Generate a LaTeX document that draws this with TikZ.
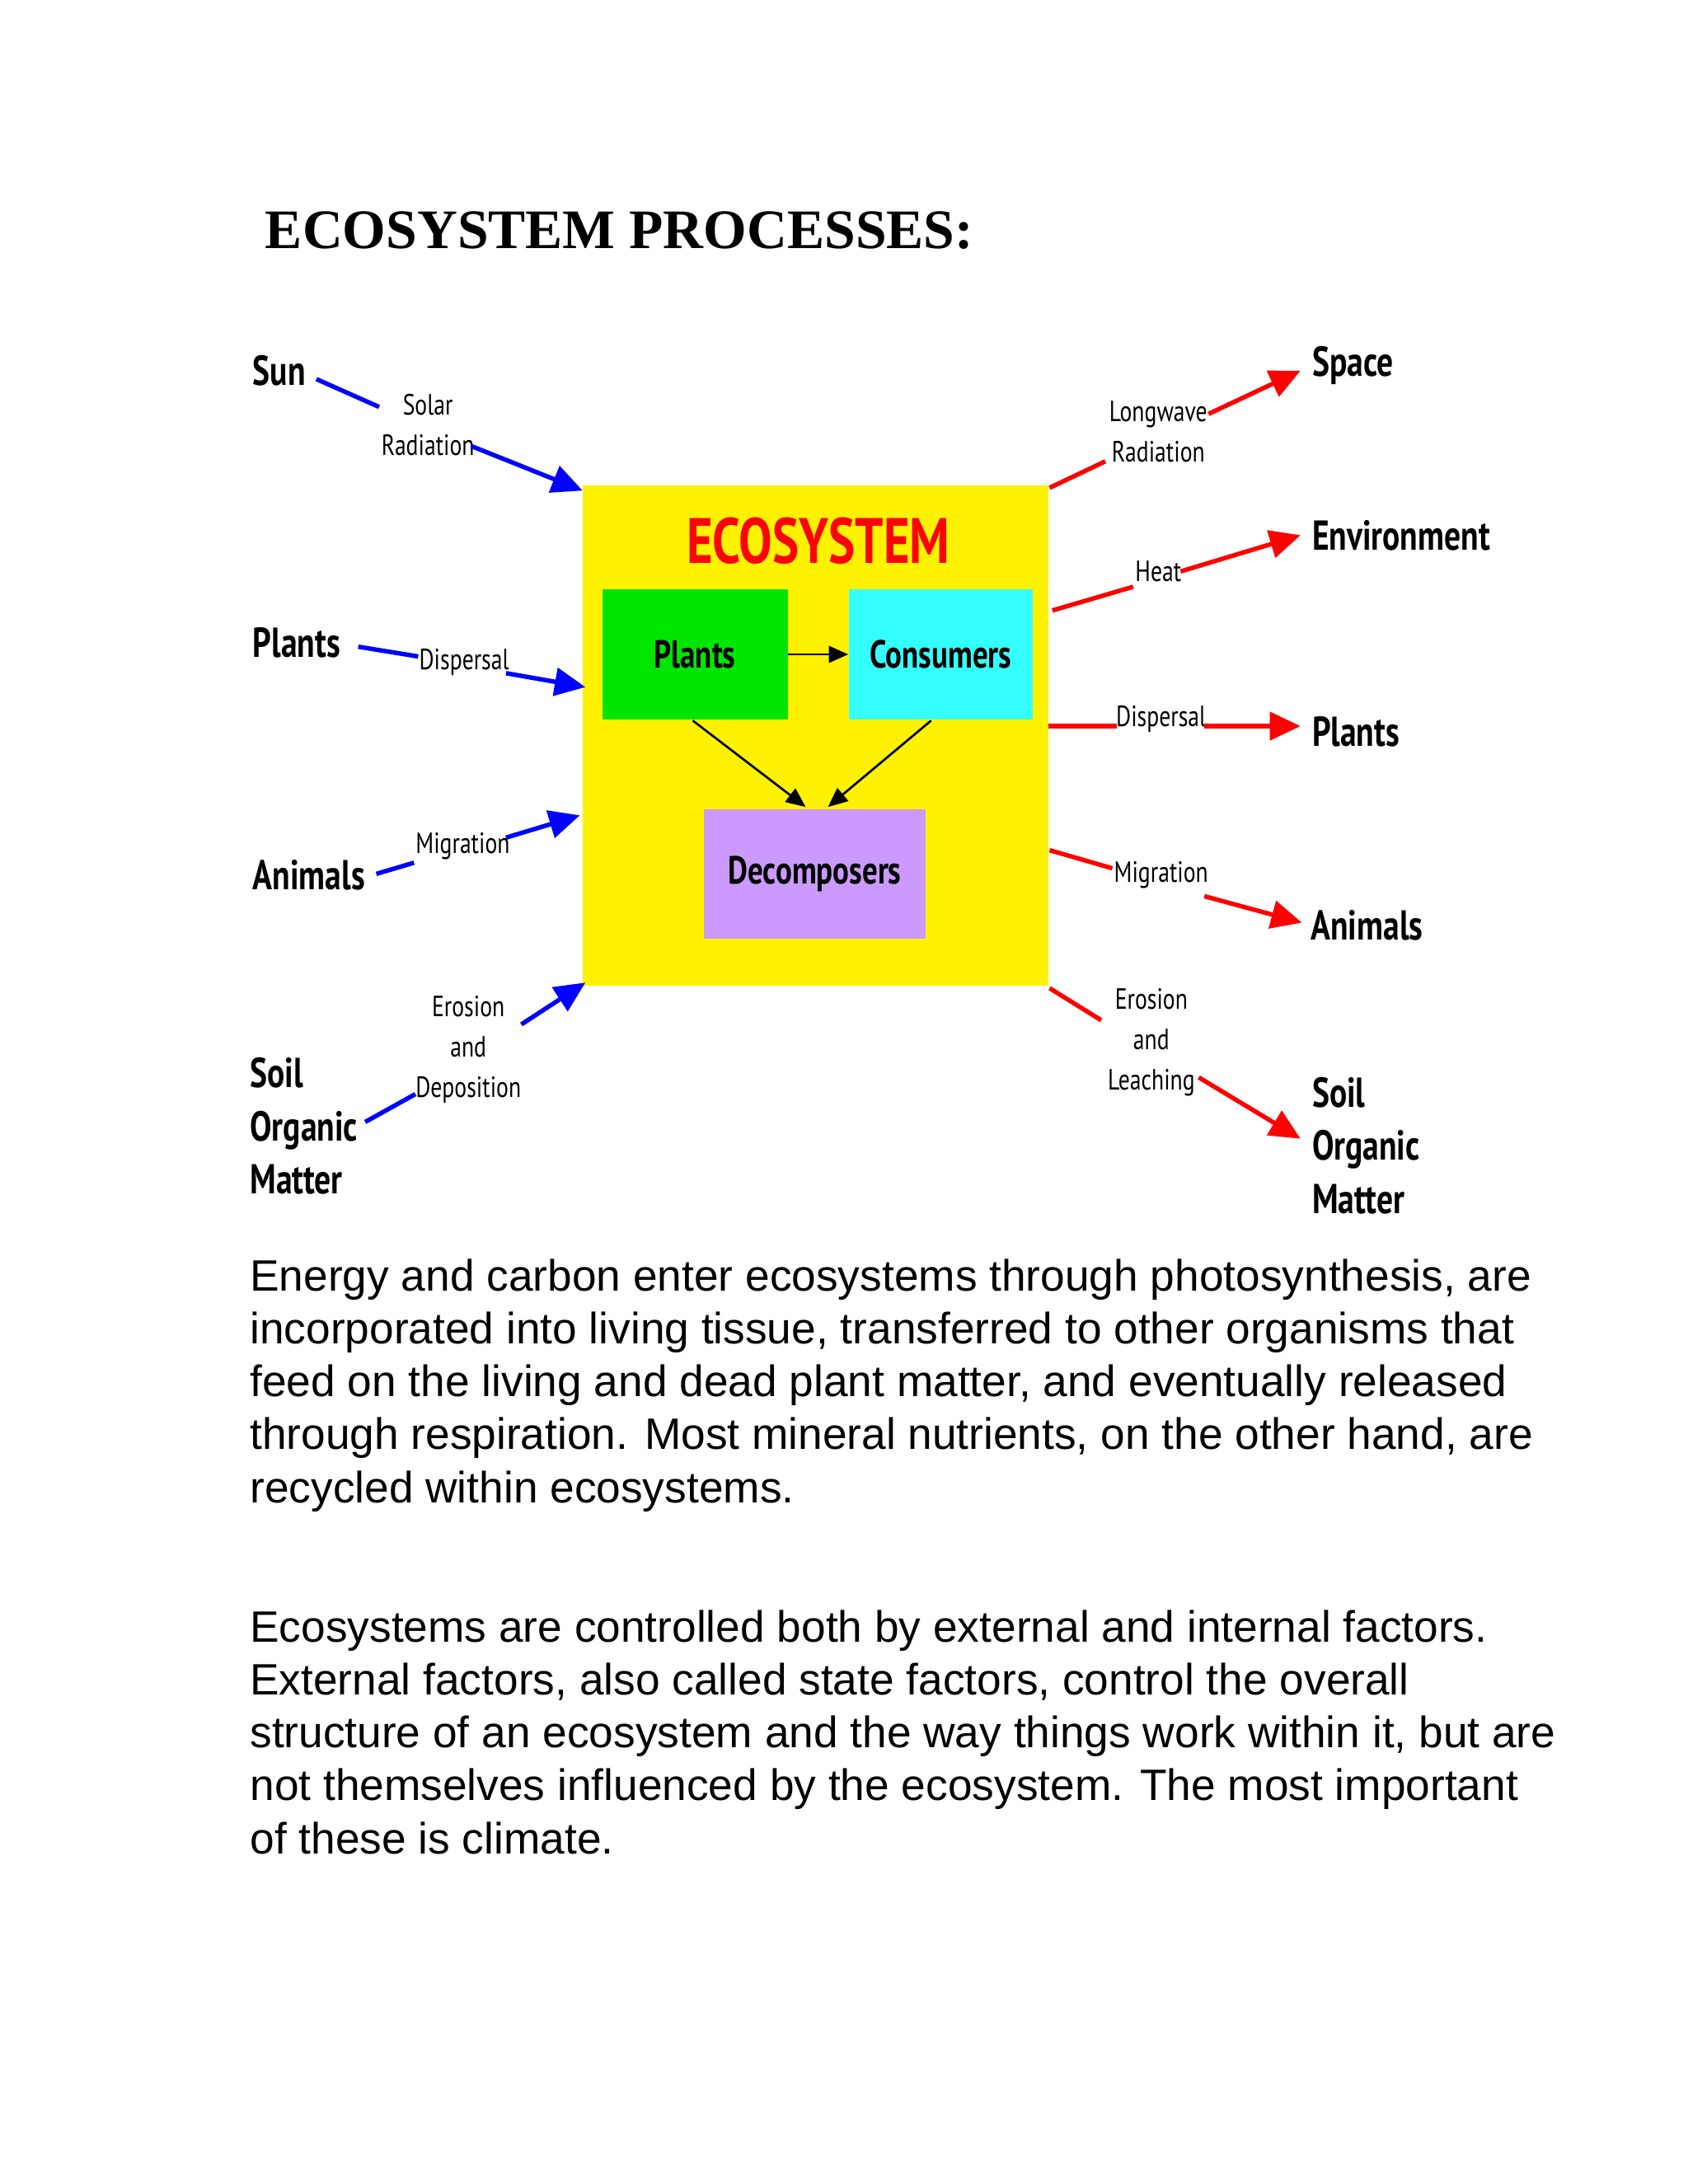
\documentclass[tikz,border=0pt]{standalone}
\usepackage{fontspec}
\setmainfont{Liberation Sans}
\newfontfamily\titlefont{Liberation Serif}
\newfontfamily\lbl{PT Sans}[FakeStretch=0.78]
\usetikzlibrary{arrows.meta}
\begin{document}
\begin{tikzpicture}[x=0.5pt,y=-0.5pt,
  box/.style={draw=none,inner sep=0pt},
  big/.style={font=\lbl\bfseries\fontsize{15}{18}\selectfont,inner sep=0pt,anchor=west},
  small/.style={font=\lbl\fontsize{10.5}{14.5}\selectfont,inner sep=1pt,align=center},
  inflow/.style={blue,line width=1.6pt},
  outflow/.style={red,line width=1.6pt},
  tip/.style={-{Triangle[length=11pt,width=10pt]}},
  para/.style={font=\fontsize{15.75}{19}\selectfont,anchor=base west,inner sep=0pt}]
\useasboundingbox (0,0) rectangle (1211,1567);

%title
\node[anchor=base west,inner sep=0pt,font=\titlefont\bfseries\fontsize{20}{24}\selectfont] (title) at (190,178) {ECOSYSTEM PROCESSES:};

%main box
\fill[yellow] (418,348) rectangle (752,707);
\node[red,font=\lbl\bfseries\fontsize{23}{26}\selectfont,inner sep=0pt] (eco) at (587,388) {ECOSYSTEM};
\node[box,fill={rgb,255:red,0;green,230;blue,0},minimum width=66.5pt,minimum height=46.5pt,font=\lbl\bfseries\fontsize{14}{16}\selectfont] (plants) at (498.5,469.5) {Plants};
\node[box,fill={rgb,255:red,51;green,255;blue,255},minimum width=66pt,minimum height=46.5pt,font=\lbl\bfseries\fontsize{14}{16}\selectfont] (cons) at (675,469.5) {Consumers};
\node[box,fill={rgb,255:red,204;green,153;blue,255},minimum width=79.5pt,minimum height=46.5pt,font=\lbl\bfseries\fontsize{14}{16}\selectfont] (decomp) at (584.5,627) {Decomposers};
\draw[line width=0.8pt,-{Triangle[length=7pt,width=6pt]}] (plants) -- (cons);
\draw[line width=0.8pt,-{Triangle[length=7pt,width=6pt]}] (497,517) -- (578,579);
\draw[line width=0.8pt,-{Triangle[length=7pt,width=6pt]}] (668,517) -- (594,579);

%left side
\node[big] (sun) at (181,266) {Sun};
\node[big] (lplants) at (181,461) {Plants};
\node[big] (lanimals) at (181,628) {Animals};
\node[big,align=left,font=\lbl\bfseries\fontsize{15}{19}\selectfont] (lsoil) at (179,808) {Soil\\Organic\\Matter};
\node[small] (solar) at (307,305) {Solar\\Radiation};
\node[small] (ldisp) at (333,475) {Dispersal};
\node[small] (lmig) at (332,607) {Migration};
\node[small] (ldep) at (336,753) {Erosion\\and\\Deposition};
\coordinate (in1) at (418,352);
\coordinate (in2) at (420,493);
\coordinate (in3) at (416,585);
\coordinate (in4) at (420,705);
\draw[inflow] (227,272) -- (272,292);
\draw[inflow,tip] (338,320) -- (in1);
\draw[inflow] (257,464) -- (300,471);
\draw[inflow,tip] (363,483) -- (in2);
\draw[inflow] (270,627) -- (297,619);
\draw[inflow,tip] (363,601) -- (in3);
\draw[inflow] (262,805) -- (298,785);
\draw[inflow,tip] (374,735) -- (in4);

%right side
\node[big] (space) at (941,262) {Space};
\node[big] (env) at (941,384) {Environment};
\node[big] (rplants) at (941,525) {Plants};
\node[big] (ranimals) at (940,664) {Animals};
\node[big,align=left,font=\lbl\bfseries\fontsize{15}{19}\selectfont] (rsoil) at (941,822) {Soil\\Organic\\Matter};
\node[small] (long) at (831,310) {Longwave\\Radiation};
\node[small] (heat) at (831,410) {Heat};
\node[small] (rdisp) at (833,516) {Dispersal};
\node[small] (rmig) at (833,628) {Migration};
\node[small] (leach) at (826,748) {Erosion\\and\\Leaching};
\coordinate (out1) at (933,266);
\coordinate (out2) at (933,384);
\coordinate (out3) at (933,521);
\coordinate (out4) at (934,662);
\coordinate (out5) at (933,817);
\draw[outflow] (753,350) -- (793,331);
\draw[outflow,tip] (867,297) -- (out1);
\draw[outflow] (755,438) -- (813,421);
\draw[outflow,tip] (847,410) -- (out2);
\draw[outflow] (752,521) -- (801,521);
\draw[outflow,tip] (864,521) -- (out3);
\draw[outflow] (753,610) -- (798,623);
\draw[outflow,tip] (864,643) -- (out4);
\draw[outflow] (753,709) -- (790,732);
\draw[outflow,tip] (860,773) -- (out5);

%text
\node[para] (p1) at (179,926) {Energy and carbon enter ecosystems through photosynthesis, are};
\node[para] (p2) at (179,964) {incorporated into living tissue, transferred to other organisms that};
\node[para] (p3) at (179,1002) {feed on the living and dead plant matter, and eventually released};
\node[para] (p4) at (179,1040) {through respiration. Most mineral nutrients, on the other hand, are};
\node[para] (p5) at (179,1078) {recycled within ecosystems.};
\node[para] (q1) at (179,1178) {Ecosystems are controlled both by external and internal factors.};
\node[para] (q2) at (179,1216) {External factors, also called state factors, control the overall};
\node[para] (q3) at (179,1254) {structure of an ecosystem and the way things work within it, but are};
\node[para] (q4) at (179,1292) {not themselves influenced by the ecosystem. The most important};
\node[para] (q5) at (179,1330) {of these is climate.};
\end{tikzpicture}
\end{document}
